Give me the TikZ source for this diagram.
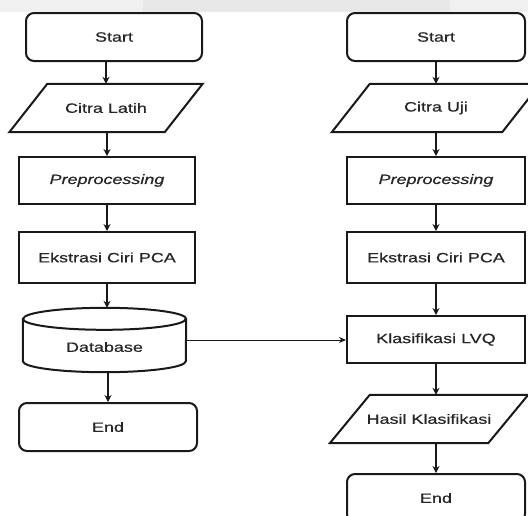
\documentclass[tikz,border=0pt]{standalone}
\usepackage{fontspec}
\setmainfont[FakeStretch=1.33,FakeBold=0.6]{Liberation Sans}
\usetikzlibrary{arrows.meta}
\begin{document}
\begin{tikzpicture}[x=1pt,y=-1pt,
  box/.style={draw=black!90, line width=2pt},
  lbl/.style={font=\fontsize{13.5}{16}\selectfont, text=black!85, inner sep=0pt},
  term/.style={box, lbl, rounded corners=8pt, minimum height=48pt},
  proc/.style={box, lbl, minimum height=47pt},
  para/.style={lbl, minimum height=48pt},
  arr/.style={draw=black!90, line width=1.5pt, -{Stealth[length=7pt,width=7pt]}},
  harr/.style={draw=black!90, line width=1pt, -{Stealth[length=7pt,width=6pt]}}]
\useasboundingbox (0,0) rectangle (528,515);
\clip (0,0) rectangle (528,515);
% faint watermark band
\fill[black!6] (0,0) rectangle (528,12);
\fill[black!9] (143,0) rectangle (450,12);
% left column
\node[term, minimum width=176pt] (st1) at (114,37) {Start};
\node[para, minimum width=155pt] (cl) at (106,108) {Citra Latih};
\draw[box] ([xshift=-19pt]cl.south west) -- ([xshift=-19pt]cl.south east)
  -- ([xshift=19pt]cl.north east) -- ([xshift=19pt]cl.north west) -- cycle;
\node[proc, minimum width=176pt] (pp1) at (107,180.5) {\itshape Preprocessing};
\node[proc, minimum width=176pt, minimum height=51pt] (ek1) at (107,257.5) {Ekstrasi Ciri PCA};
\node[lbl, minimum width=163pt, minimum height=64pt] (db) at (104.5,340) {};
\draw[box] ([yshift=-11pt]db.north west) -- ([yshift=11pt]db.south west)
  arc[start angle=180, end angle=360, x radius=81.5pt, y radius=11pt]
  -- ([yshift=-11pt]db.north east)
  arc[start angle=0, end angle=180, x radius=81.5pt, y radius=11pt] -- cycle;
\draw[box] ([yshift=-11pt]db.north west)
  arc[start angle=180, end angle=360, x radius=81.5pt, y radius=11pt];
\node[lbl] (dbt) at (104.5,347) {Database};
\node[term, minimum width=178pt] (en1) at (108,427) {End};
% right column
\node[term, minimum width=178pt] (st2) at (436,37) {Start};
\node[para, minimum width=170pt] (cu) at (436,108) {Citra Uji};
\draw[box] ([xshift=-19pt]cu.south west) -- ([xshift=-19pt]cu.south east)
  -- ([xshift=19pt]cu.north east) -- ([xshift=19pt]cu.north west) -- cycle;
\node[proc, minimum width=178pt] (pp2) at (436,180.5) {\itshape Preprocessing};
\node[proc, minimum width=178pt, minimum height=51pt] (ek2) at (436,257.5) {Ekstrasi Ciri PCA};
\node[proc, minimum width=178pt] (kl) at (436,339.5) {Klasifikasi LVQ};
\node[para, minimum width=158pt] (hk) at (429,419) {Hasil Klasifikasi};
\draw[box] ([xshift=-20pt]hk.south west) -- ([xshift=-20pt]hk.south east)
  -- ([xshift=20pt]hk.north east) -- ([xshift=20pt]hk.north west) -- cycle;
\node[term, minimum width=178pt] (en2) at (436,498) {End};
% connectors left
\draw[arr] (cl.north |- st1.south) -- (cl.north);
\draw[arr] (cl.south -| pp1.north) -- (pp1.north);
\draw[arr] (pp1.south) -- (ek1.north);
\draw[arr] (ek1.south) -- (ek1.south |- db.north);
\draw[arr] (en1.north |- db.south) -- (en1.north);
% connectors right
\draw[arr] (st2.south) -- (st2.south |- cu.north);
\draw[arr] (pp2.north |- cu.south) -- (pp2.north);
\draw[arr] (pp2.south) -- (ek2.north);
\draw[arr] (ek2.south) -- (kl.north);
\draw[arr] (kl.south) -- (kl.south |- hk.north);
\draw[arr] (en2.north |- hk.south) -- (en2.north);
% cross connector
\draw[harr] (db.east) -- (db.east -| kl.west);
\end{tikzpicture}
\end{document}
